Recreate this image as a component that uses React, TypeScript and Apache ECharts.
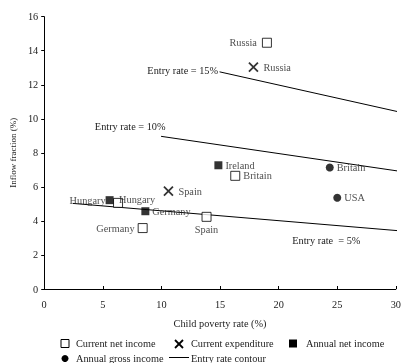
import React, { useEffect, useRef } from "react";
import * as echarts from "echarts";

// [child poverty rate %, inflow fraction %, country]
const currentNetIncome: [number, number, string][] = [
  [19.0, 14.47, "Russia"],
  [16.3, 6.65, "Britain"],
  [6.3, 5.06, "Hungary"],
  [8.4, 3.58, "Germany"],
  [13.85, 4.24, "Spain"],
];
const currentExpenditure: [number, number, string][] = [
  [17.85, 13.04, "Russia"],
  [10.6, 5.75, "Spain"],
];
const annualNetIncome: [number, number, string][] = [
  [14.86, 7.27, "Ireland"],
  [5.58, 5.22, "Hungary"],
  [8.63, 4.57, "Germany"],
];
const annualGrossIncome: [number, number, string][] = [
  [24.36, 7.14, "Britain"],
  [25.0, 5.36, "USA"],
];
const contour15: [number, number][] = [[14.96, 12.76], [30.3, 10.4]];
const contour10: [number, number][] = [[9.97, 8.97], [30.3, 6.92]];
const contour5: [number, number][] = [[2.43, 5.03], [30.3, 3.42]];

const xTicks = [0, 5, 10, 15, 20, 25, 30];
const yTicks = [0, 2, 4, 6, 8, 10, 12, 14, 16];

// label placements per country point
const labelPos: Record<string, string> = {
  "cni-Russia": "left",
  "cni-Britain": "right",
  "cni-Hungary": "right",
  "cni-Germany": "left",
  "cni-Spain": "bottom",
  "ce-Russia": "right",
  "ce-Spain": "right",
  "ani-Ireland": "right",
  "ani-Hungary": "left",
  "ani-Germany": "right",
  "agi-Britain": "right",
  "agi-USA": "right",
};
const labelOffset: Record<string, number[]> = {
  "cni-Hungary": [-7, -3],
  "ani-Hungary": [3, 0],
  "cni-Russia": [-2, 0],
};

const FONT = "Liberation Serif";
const FS = 10.3;

export default function App() {
  const ref = useRef<HTMLDivElement>(null);
  useEffect(() => {
    if (!ref.current) return;
    const chart = echarts.init(ref.current, undefined, { renderer: "svg" });

    const pts = (arr: [number, number, string][], key: string) =>
      arr.map((d) => ({
        value: [d[0], d[1]],
        label: {
          show: true,
          formatter: d[2],
          position: labelPos[key + "-" + d[2]] as any,
          distance: 3,
          offset: labelOffset[key + "-" + d[2]] || [0, 0],
        },
      }));

    const labelBase = {
      fontFamily: FONT,
      fontSize: FS,
      color: "#222",
    };

    const contour = (data: [number, number][], text: string, pos: string, offset: number[], idx: number) => ({
      type: "line",
      data: data.map((d, i) => ({
        value: d,
        label:
          i === idx
            ? { show: true, formatter: text, position: pos, offset, distance: 2, ...labelBase }
            : { show: false },
      })),
      showSymbol: true,
      symbol: "circle",
      symbolSize: 1,
      itemStyle: { color: "rgba(0,0,0,0)" },
      clip: false,
      lineStyle: { color: "#000", width: 1 },
      label: { show: false },
      silent: true,
    });

    const font = `${FS}px "${FONT}"`;

    chart.setOption({
      animation: false,
      grid: { left: 43, right: 4.7, top: 16.7, bottom: 74 },
      xAxis: {
        type: "value",
        min: 0,
        max: 30,
        interval: 5,
        name: "Child poverty rate (%)",
        nameLocation: "middle",
        nameGap: 29,
        nameTextStyle: { fontFamily: FONT, fontSize: FS, color: "#222" },
        axisLine: { lineStyle: { color: "#000" } },
        axisTick: { inside: true, length: 3, lineStyle: { color: "#000" } },
        axisLabel: { fontFamily: FONT, fontSize: FS, color: "#222", margin: 10 },
        splitLine: { show: false },
      },
      yAxis: {
        type: "value",
        min: 0,
        max: 16,
        interval: 2,
        name: "Inflow fraction (%)",
        nameLocation: "middle",
        nameGap: 25,
        nameTextStyle: { fontFamily: FONT, fontSize: 9, color: "#222" },
        axisLine: { show: true, lineStyle: { color: "#000" } },
        axisTick: { show: true, length: 3, lineStyle: { color: "#000" } },
        axisLabel: { fontFamily: FONT, fontSize: FS, color: "#222", margin: 6 },
        splitLine: { show: false },
      },
      series: [
        contour(contour15, "Entry rate = 15%", "left", [1, -1], 0),
        contour(contour10, "Entry rate = 10%", "left", [7, -10], 0),
        contour(contour5, "Entry rate  = 5%", "bottom", [-73, 2], 1),
        {
          type: "scatter",
          name: "Current net income",
          symbol: "rect",
          symbolSize: 9,
          itemStyle: { color: "#fff", borderColor: "#000", borderWidth: 1 },
          label: labelBase,
          data: pts(currentNetIncome, "cni"),
          z: 3,
        },
        {
          type: "scatter",
          name: "Current expenditure",
          symbol: "path://M0,0L10,10M10,0L0,10",
          symbolSize: 9,
          itemStyle: { color: "none", borderColor: "#000", borderWidth: 1.8 },
          label: labelBase,
          data: pts(currentExpenditure, "ce"),
          z: 3,
        },
        {
          type: "scatter",
          name: "Annual net income",
          symbol: "rect",
          symbolSize: 8,
          itemStyle: { color: "#000" },
          label: labelBase,
          data: pts(annualNetIncome, "ani"),
          z: 4,
        },
        {
          type: "scatter",
          name: "Annual gross income",
          symbol: "circle",
          symbolSize: 8,
          itemStyle: { color: "#000" },
          label: labelBase,
          data: pts(annualGrossIncome, "agi"),
          z: 3,
        },
      ],
      graphic: [
        { type: "rect", shape: { x: 61, y: 339.5, width: 8, height: 8 }, style: { fill: "#fff", stroke: "#000", lineWidth: 1 } },
        { type: "text", x: 76, y: 343.5, style: { text: "Current net income", font, fill: "#222", verticalAlign: "middle" } },
        { type: "line", shape: { x1: 175, y1: 340, x2: 183, y2: 348 }, style: { stroke: "#000", lineWidth: 1.8 } },
        { type: "line", shape: { x1: 183, y1: 340, x2: 175, y2: 348 }, style: { stroke: "#000", lineWidth: 1.8 } },
        { type: "text", x: 191, y: 343.5, style: { text: "Current expenditure", font, fill: "#222", verticalAlign: "middle" } },
        { type: "rect", shape: { x: 289, y: 339.5, width: 8, height: 8 }, style: { fill: "#000" } },
        { type: "text", x: 306, y: 343.5, style: { text: "Annual net income", font, fill: "#222", verticalAlign: "middle" } },
        { type: "circle", shape: { cx: 65, cy: 358.5, r: 3.5 }, style: { fill: "#000" } },
        { type: "text", x: 76, y: 358, style: { text: "Annual gross income", font, fill: "#222", verticalAlign: "middle" } },
        { type: "line", shape: { x1: 169, y1: 357.5, x2: 189, y2: 357.5 }, style: { stroke: "#000", lineWidth: 1 } },
        { type: "text", x: 191, y: 358, style: { text: "Entry rate contour", font, fill: "#222", verticalAlign: "middle" } },
      ],
    });
    return () => chart.dispose();
  }, []);
  return <div ref={ref} style={{ width: 404, height: 363, position: "fixed", left: 0, top: 0 }} />;
}
